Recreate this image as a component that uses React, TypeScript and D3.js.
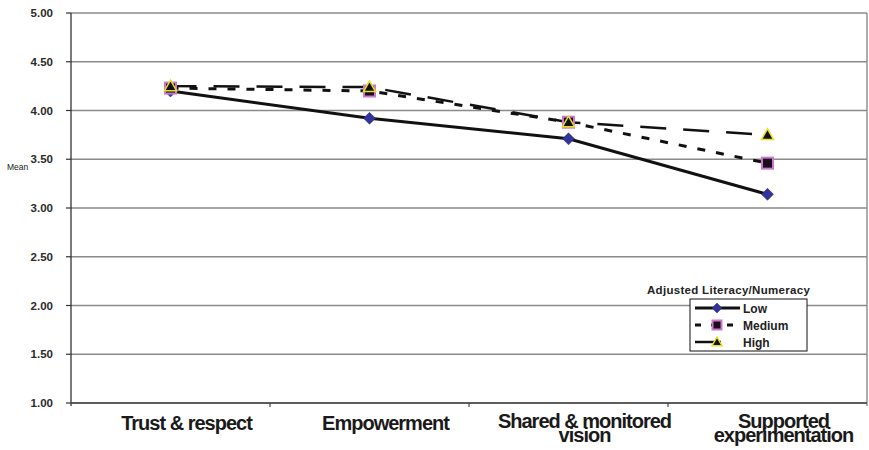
import * as d3 from "d3";

const categories = [
  "Trust & respect",
  "Empowerment",
  "Shared & monitored\nvision",
  "Supported\nexperimentation",
];
const lowValues = [4.2, 3.92, 3.71, 3.14];
const mediumValues = [4.23, 4.2, 3.88, 3.46];
const highValues = [4.25, 4.24, 3.88, 3.75];
const yTicks = [1, 1.5, 2, 2.5, 3, 3.5, 4, 4.5, 5];
const legendTitle = "Adjusted Literacy/Numeracy";
const seriesNames = ["Low", "Medium", "High"];

const W = 869;
const H = 450;
const left = 71;
const right = 867;
const top = 13;
const bottom = 403;
const font = "'Liberation Sans', Arial, sans-serif";
const ink = "#1a1a1a";

function Diamond({ x, y, r = 6 }: { x: number; y: number; r?: number }) {
  return (
    <path
      d={`M${x},${y - r}L${x + r},${y}L${x},${y + r}L${x - r},${y}Z`}
      fill="#333399"
      stroke="#2b2b80"
      strokeWidth={0.5}
    />
  );
}

function Square({ x, y, s = 11 }: { x: number; y: number; s?: number }) {
  return (
    <rect
      x={x - s / 2}
      y={y - s / 2}
      width={s}
      height={s}
      fill="#1a0d1a"
      stroke="#cc77cc"
      strokeWidth={2}
    />
  );
}

function Triangle({ x, y, s = 6 }: { x: number; y: number; s?: number }) {
  return (
    <path
      d={`M${x},${y - s}L${x + s},${y + s * 0.75}L${x - s},${y + s * 0.75}Z`}
      fill="#111"
      stroke="#e8e020"
      strokeWidth={1.5}
    />
  );
}

export default function App() {
  const x = d3.scaleBand<string>().domain(categories).range([left, right]);
  const y = d3.scaleLinear().domain([1, 5]).range([bottom, top]);
  const cx = (c: string) => (x(c) ?? 0) + x.bandwidth() / 2;

  const line = d3
    .line<number>()
    .x((_, i) => cx(categories[i]))
    .y((v) => y(v));

  const boundaries = categories.slice(1).map((c) => x(c) ?? 0);

  return (
    <svg
      width={W}
      height={H}
      style={{ position: "absolute", left: 0, top: 0, background: "#fff" }}
      fontFamily={font}
    >
      {/* grid */}
      {yTicks.map((t) => (
        <line
          key={t}
          x1={left}
          x2={right}
          y1={y(t)}
          y2={y(t)}
          stroke="#8a8a8a"
          strokeWidth={1.6}
        />
      ))}
      <line x1={right} x2={right} y1={top} y2={bottom + 3} stroke="#8a8a8a" strokeWidth={1.4} />

      {/* axes */}
      <line x1={left} x2={left} y1={top} y2={bottom + 3} stroke="#333" strokeWidth={1.3} />
      <line x1={left} x2={right} y1={bottom} y2={bottom} stroke="#444" strokeWidth={1.3} />
      {yTicks.map((t) => (
        <g key={"t" + t}>
          <line x1={left - 5} x2={left} y1={y(t)} y2={y(t)} stroke="#333" strokeWidth={1.2} />
          <text
            x={53}
            y={y(t) + 4}
            textAnchor="end"
            fontSize={11.5}
            fontWeight="bold"
            fill="#2a2a2a"
          >
            {t.toFixed(2)}
          </text>
        </g>
      ))}
      {boundaries.map((b) => (
        <line key={b} x1={b} x2={b} y1={bottom} y2={bottom + 4} stroke="#444" strokeWidth={1.2} />
      ))}

      {/* category labels */}
      {categories.map((c) => {
        const lines = c.split("\n");
        const y0 = lines.length > 1 ? 428 : 430;
        return (
          <text
            key={c}
            x={cx(c) + 16}
            y={y0}
            textAnchor="middle"
            fontSize={20}
            fontWeight="bold"
            fill={ink}
            letterSpacing={-1}
          >
            {lines.map((l, i) => (
              <tspan key={l} x={cx(c) + 16} y={y0 + i * 14}>
                {l}
              </tspan>
            ))}
          </text>
        );
      })}

      <text x={7} y={170} fontSize={8.5} fill="#222">
        Mean
      </text>

      {/* series */}
      <path d={line(lowValues) ?? ""} fill="none" stroke="#111" strokeWidth={3} />
      <path
        d={line(mediumValues) ?? ""}
        fill="none"
        stroke="#111"
        strokeWidth={3}
        strokeDasharray="8 11"
      />
      <path
        d={line(highValues) ?? ""}
        fill="none"
        stroke="#111"
        strokeWidth={2.5}
        strokeDasharray="26 17"
      />
      {lowValues.map((v, i) => (
        <Diamond key={"l" + i} x={cx(categories[i])} y={y(v)} />
      ))}
      {mediumValues.map((v, i) => (
        <Square key={"m" + i} x={cx(categories[i])} y={y(v)} />
      ))}
      {highValues.map((v, i) => (
        <Triangle key={"h" + i} x={cx(categories[i])} y={y(v)} />
      ))}

      {/* legend */}
      <text x={647} y={294} fontSize={11.5} fontWeight="bold" fill="#222" letterSpacing={0.3}>
        {legendTitle}
      </text>
      <rect x={690} y={299} width={117} height={52} fill="#fff" stroke="#111" strokeWidth={1} />
      {seriesNames.map((n, i) => {
        const ly = 308 + i * 17;
        return (
          <g key={n}>
            {i === 0 && (
              <>
                <line x1={695} x2={740} y1={ly} y2={ly} stroke="#111" strokeWidth={3} />
                <Diamond x={717} y={ly} r={5} />
              </>
            )}
            {i === 1 && (
              <>
                <line x1={695} x2={740} y1={ly} y2={ly} stroke="#111" strokeWidth={3} strokeDasharray="6 10" />
                <Square x={717} y={ly} s={9} />
              </>
            )}
            {i === 2 && (
              <>
                <line x1={695} x2={738} y1={ly} y2={ly} stroke="#111" strokeWidth={2.5} strokeDasharray="26 17" />
                <Triangle x={717} y={ly} s={5} />
              </>
            )}
            <text x={743} y={ly + 4.5} fontSize={12} fontWeight="bold" fill="#222">
              {n}
            </text>
          </g>
        );
      })}
    </svg>
  );
}
